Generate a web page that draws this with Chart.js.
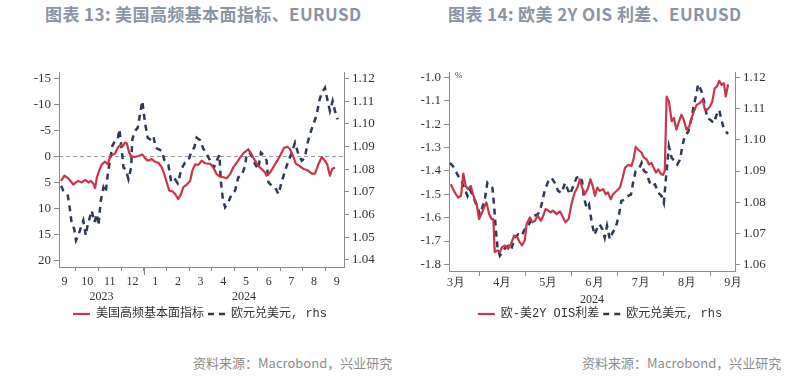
<!DOCTYPE html>
<html>
<head>
<meta charset="utf-8">
<script src="https://cdn.jsdelivr.net/npm/chart.js@4.4.1/dist/chart.umd.min.js"></script>
<style>
  html, body { margin: 0; padding: 0; background: #fff; }
  body { width: 800px; height: 379px; position: relative; overflow: hidden;
         font-family: "Noto Sans CJK SC", "Noto Sans", sans-serif; }
  .title { position: absolute; top: 1px; font-size: 17px; letter-spacing: 0.4px; font-weight: bold; color: #8a94a4; white-space: nowrap; }
  .src { position: absolute; top: 353px; font-size: 13px; color: #8c8c8c; white-space: nowrap; }
  .box { position: absolute; top: 50px; width: 400px; height: 280px; }
</style>
</head>
<body>
<div class="title" style="left:45px">图表 13: 美国高频基本面指标、EURUSD</div>
<div class="title" style="left:448px">图表 14: 欧美 2Y OIS 利差、EURUSD</div>
<div class="box" style="left:0"><canvas id="c1" width="400" height="280"></canvas></div>
<div class="box" style="left:400px"><canvas id="c2" width="400" height="280"></canvas></div>
<div class="src" style="left:193px">资料来源：Macrobond，兴业研究</div>
<div class="src" style="left:582px">资料来源：Macrobond，兴业研究</div>

<script>
/* ── chart 13: months counted from 2023-09-01 ───────────────────── */
const LEFT_MONTHS = ['9', '10', '11', '12', '1', '2', '3', '4', '5', '6', '7', '8', '9'];
const LEFT_YEARS = ['2023', '2024'];
const LEFT_YEAR_BOUNDS = [0, 4, 16];
const LEFT_Y_TICKS = [-15, -10, -5, 0, 5, 10, 15, 20];
const LEFT_R_TICKS = [1.04, 1.05, 1.06, 1.07, 1.08, 1.09, 1.10, 1.11, 1.12];

const US_HF_T = [0.35,0.50,0.67,0.82,0.89,1.00,1.11,1.26,1.41,1.56,1.67,1.78,1.85,1.93,2.03,2.15,2.29,2.41,2.51,2.61,
  2.73,2.85,2.95,3.07,3.17,3.25,3.35,3.44,3.58,3.76,3.93,4.05,4.17,4.35,4.49,4.64,4.79,4.90,5.01,5.12,
  5.26,5.37,5.52,5.64,5.74,5.89,6.04,6.14,6.26,6.40,6.55,6.70,6.92,7.06,7.21,7.36,7.50,7.65,7.80,7.94,
  8.09,8.24,8.38,8.60,8.75,8.90,9.04,9.19,9.34,9.41,9.56,9.70,9.88,10.03,10.18,10.32,10.44,10.56,10.70,10.85,
  11.03,11.20,11.40,11.54,11.69,11.84,11.98,12.08,12.20,12.30,12.42];
const US_HF_V = [4.7,3.7,4.2,5.0,5.4,5.0,4.7,5.0,4.5,5.0,4.7,5.3,6.1,4.0,2.7,1.5,1.0,1.5,0.1,-0.3,
  -0.6,-1.7,-2.2,-2.0,-2.7,-2.5,-0.8,-0.1,0.1,-0.1,-0.4,0.3,0.8,0.5,1.0,1.2,2.1,3.4,5.0,6.6,
  6.7,7.2,8.2,7.2,5.9,5.4,4.7,2.7,1.5,1.6,0.8,1.3,1.4,2.1,3.4,3.9,4.0,4.2,3.4,2.1,
  1.2,0.2,-0.6,-1.4,-0.4,0.8,1.8,2.4,3.1,3.7,3.1,2.1,0.8,-0.4,-1.7,-1.9,-1.4,-0.3,1.4,1.8,
  2.4,2.6,3.3,3.3,1.5,0.1,0.8,1.5,3.7,2.4,2.1];

const EUR1_T = [0.35,0.45,0.65,0.75,0.82,0.93,1.01,1.11,1.23,1.33,1.44,1.53,1.60,1.70,1.82,1.93,2.00,2.10,2.22,2.32,
  2.41,2.51,2.61,2.73,2.85,2.92,3.03,3.10,3.20,3.32,3.44,3.49,3.61,3.73,3.83,3.93,4.05,4.17,4.27,4.42,
  4.52,4.64,4.79,4.90,5.08,5.20,5.34,5.49,5.67,5.81,5.96,6.11,6.22,6.33,6.48,6.62,6.77,6.92,7.09,7.21,
  7.33,7.39,7.48,7.58,7.72,7.87,8.02,8.16,8.31,8.46,8.53,8.65,8.80,8.90,9.04,9.16,9.30,9.41,9.49,9.63,
  9.78,9.93,10.07,10.22,10.37,10.52,10.66,10.81,10.96,11.10,11.20,11.32,11.47,11.62,11.73,11.84,11.98,12.10,12.20,12.32,
  12.42,12.54];
const EUR1_V = [1.0727,1.0705,1.0683,1.0617,1.0558,1.0536,1.0485,1.0507,1.0544,1.0573,1.0507,1.0558,1.0580,1.0617,1.0566,1.0602,1.0551,1.0661,1.0720,1.0698,
  1.0778,1.0841,1.0903,1.0925,1.0932,1.0976,1.0881,1.0807,1.0800,1.0756,1.0807,1.0932,1.0969,1.0983,1.1042,1.1101,1.1005,1.0939,1.0932,1.0947,
  1.0895,1.0888,1.0881,1.0841,1.0819,1.0746,1.0760,1.0738,1.0804,1.0829,1.0837,1.0881,1.0895,1.0939,1.0928,1.0890,1.0866,1.0837,1.0807,1.0837,
  1.0863,1.0749,1.0668,1.0632,1.0654,1.0690,1.0705,1.0764,1.0771,1.0815,1.0866,1.0873,1.0851,1.0822,1.0800,1.0873,1.0859,1.0837,1.0742,1.0727,
  1.0720,1.0690,1.0742,1.0793,1.0837,1.0873,1.0917,1.0866,1.0837,1.0851,1.0910,1.0954,1.0998,1.1042,1.1101,1.1137,1.1159,1.1101,1.1057,1.1101,
  1.1057,1.1020];

/* ── chart 14: months counted from 2024-03-01 ───────────────────── */
const RIGHT_MONTHS = ['3月', '4月', '5月', '6月', '7月', '8月', '9月'];
const RIGHT_YEARS = ['2024'];
const RIGHT_YEAR_BOUNDS = [0, 12];
const RIGHT_Y_TICKS = [-1.8, -1.7, -1.6, -1.5, -1.4, -1.3, -1.2, -1.1, -1.0];
const RIGHT_R_TICKS = [1.06, 1.07, 1.08, 1.09, 1.10, 1.11, 1.12];

const OIS_T = [0.39,0.44,0.49,0.55,0.61,0.66,0.71,0.76,0.82,0.87,0.95,1.00,1.05,1.11,1.16,1.22,1.27,1.31,1.34,1.40,
  1.45,1.50,1.56,1.63,1.69,1.76,1.83,1.88,1.93,1.99,2.03,2.10,2.15,2.21,2.27,2.34,2.39,2.44,2.50,2.55,
  2.60,2.68,2.75,2.82,2.87,2.94,3.00,3.07,3.13,3.18,3.23,3.29,3.35,3.41,3.46,3.51,3.56,3.61,3.69,3.74,
  3.79,3.85,3.90,3.98,4.05,4.11,4.16,4.23,4.30,4.35,4.39,4.44,4.52,4.57,4.63,4.68,4.73,4.78,4.83,4.88,
  4.93,4.98,5.02,5.06,5.11,5.17,5.22,5.27,5.33,5.38,5.43,5.49,5.55,5.60,5.65,5.71,5.78,5.84,5.89,5.94,
  6.00,6.05,6.10,6.15,6.20,6.25,6.30,6.34,6.39];
const OIS_V = [-1.457,-1.478,-1.497,-1.514,-1.506,-1.411,-1.464,-1.478,-1.464,-1.500,-1.542,-1.606,-1.585,-1.556,-1.535,-1.585,-1.606,-1.606,-1.748,-1.740,
  -1.748,-1.726,-1.719,-1.734,-1.712,-1.677,-1.684,-1.705,-1.719,-1.698,-1.627,-1.599,-1.620,-1.613,-1.591,-1.613,-1.591,-1.563,-1.570,-1.577,
  -1.570,-1.585,-1.573,-1.599,-1.620,-1.606,-1.542,-1.492,-1.471,-1.436,-1.471,-1.500,-1.478,-1.436,-1.464,-1.506,-1.471,-1.485,-1.478,-1.500,
  -1.492,-1.521,-1.500,-1.485,-1.471,-1.428,-1.386,-1.374,-1.379,-1.343,-1.297,-1.308,-1.322,-1.343,-1.351,-1.372,-1.365,-1.386,-1.407,-1.393,
  -1.411,-1.417,-1.400,-1.081,-1.102,-1.187,-1.173,-1.223,-1.187,-1.159,-1.180,-1.223,-1.209,-1.173,-1.145,-1.117,-1.109,-1.095,-1.138,-1.138,
  -1.123,-1.102,-1.046,-1.038,-1.014,-1.031,-1.024,-1.081,-1.029];

const EUR2_T = [0.37,0.44,0.55,0.62,0.68,0.75,0.80,0.87,0.95,1.02,1.07,1.13,1.18,1.23,1.29,1.33,1.36,1.40,1.45,1.50,
  1.57,1.63,1.70,1.77,1.85,1.92,1.99,2.06,2.12,2.19,2.27,2.32,2.37,2.42,2.50,2.57,2.64,2.71,2.79,2.86,
  2.92,2.97,3.04,3.11,3.18,3.23,3.27,3.33,3.38,3.44,3.50,3.56,3.61,3.67,3.72,3.77,3.83,3.89,3.96,4.03,
  4.08,4.16,4.23,4.29,4.34,4.39,4.47,4.52,4.57,4.63,4.68,4.73,4.81,4.88,4.95,5.00,5.04,5.08,5.11,5.17,
  5.24,5.29,5.35,5.40,5.45,5.53,5.60,5.65,5.71,5.74,5.82,5.87,5.94,6.01,6.08,6.14,6.20,6.23,6.28,6.36,
  6.39];
const EUR2_V = [1.0926,1.0915,1.0884,1.0868,1.0846,1.0820,1.0841,1.0820,1.0788,1.0761,1.0782,1.0814,1.0862,1.0852,1.0846,1.0782,1.0718,1.0654,1.0628,1.0638,
  1.0654,1.0660,1.0649,1.0686,1.0697,1.0692,1.0713,1.0724,1.0740,1.0756,1.0761,1.0772,1.0804,1.0836,1.0868,1.0878,1.0862,1.0836,1.0830,1.0862,
  1.0841,1.0825,1.0852,1.0878,1.0884,1.0868,1.0814,1.0782,1.0793,1.0734,1.0695,1.0718,1.0729,1.0713,1.0686,1.0724,1.0681,1.0702,1.0718,1.0761,
  1.0804,1.0809,1.0820,1.0825,1.0868,1.0900,1.0910,1.0926,1.0900,1.0894,1.0868,1.0852,1.0857,1.0830,1.0820,1.0798,1.0868,1.0931,1.0979,1.0942,
  1.0931,1.0921,1.0937,1.0979,1.1011,1.1027,1.1070,1.1112,1.1150,1.1179,1.1155,1.1123,1.1070,1.1064,1.1054,1.1080,1.1096,1.1075,1.1045,1.1024,
  1.1019];

/* ── shared styling ─────────────────────────────────────────────── */
const AXIS = '#8c8c8c';
const RED = '#c8354c';
const NAVY = '#2e3a55';
const DASH = [6, 5];
const TICK_FONT = { family: '"Liberation Serif", "Times New Roman", serif', size: 12 };
const YTICK_FONT = { family: '"Liberation Serif", "Times New Roman", serif', size: 13 };
const LEGEND_FONT = { family: '"Liberation Mono", "Noto Sans CJK SC", monospace', size: 12 };

const pts = (t, v) => t.map((x, i) => ({ x, y: v[i] }));
const fixedWidth = (w) => (s) => { s.width = w; };
const fixedHeight = (h) => (s) => { s.height = h; };
const setTicks = (vals) => (s) => { s.ticks = vals.map((value) => ({ value })); };

// month boundaries carry the tick marks, month middles carry the labels
function monthTicks(months) {
  return (s) => {
    const out = [];
    for (let i = 0; i <= months.length; i++) {
      if (i >= s.min && i <= s.max) out.push({ value: i });
      if (i < months.length) out.push({ value: i + 0.5 });
    }
    s.ticks = out;
  };
}

// year row under the month labels, longer tick at year change, unit mark
const axisExtras = {
  id: 'axisExtras',
  afterDraw(chart, args, opts) {
    const x = chart.scales.x, ctx = chart.ctx;
    ctx.save();
    ctx.fillStyle = '#333';
    ctx.font = '12px "Liberation Serif", serif';
    ctx.textAlign = 'center';
    ctx.textBaseline = 'middle';
    opts.years.forEach((label, i) => {
      const a = Math.max(opts.bounds[i], x.min), b = Math.min(opts.bounds[i + 1], x.max);
      ctx.fillText(label, (x.getPixelForValue(a) + x.getPixelForValue(b)) / 2, x.top + opts.yearOffset);
    });
    ctx.strokeStyle = AXIS;
    ctx.lineWidth = 1;
    (opts.tall || []).forEach((v) => {
      const px = Math.round(x.getPixelForValue(v)) + 0.5;
      ctx.beginPath(); ctx.moveTo(px, x.top); ctx.lineTo(px, x.top + 8); ctx.stroke();
    });
    if (opts.unit) {
      ctx.font = '9px "Liberation Serif", serif';
      ctx.textAlign = 'left';
      ctx.fillText(opts.unit, chart.chartArea.left + 6, chart.chartArea.top + 4);
    }
    ctx.restore();
  },
};

function xAxis(months, min, max, height, tickLen, pad) {
  return {
    type: 'linear', min, max,
    afterBuildTicks: monthTicks(months),
    afterFit: fixedHeight(height),
    border: { color: AXIS, width: 1 },
    grid: { drawOnChartArea: false, tickLength: tickLen,
            tickColor: (c) => (Number.isInteger(c.tick.value) ? AXIS : 'rgba(0,0,0,0)') },
    ticks: { autoSkip: false, maxRotation: 0, padding: pad, color: '#333', font: TICK_FONT,
             callback: (v) => (Number.isInteger(v) ? '' : months[Math.floor(v)]) },
  };
}

function yAxis(pos, min, max, ticks, width, fmt, reverse) {
  return {
    type: 'linear', position: pos, min, max, reverse: !!reverse,
    afterBuildTicks: setTicks(ticks),
    afterFit: fixedWidth(width),
    border: { color: AXIS, width: 1 },
    grid: { drawOnChartArea: false, tickLength: 5, tickColor: AXIS },
    ticks: { color: '#333', font: YTICK_FONT, padding: 3, callback: fmt },
  };
}

// point-style legend items lose the dataset dash, so put it back
const legendOpts = {
  position: 'bottom',
  labels: {
    usePointStyle: true, pointStyle: 'line', pointStyleWidth: 17, padding: 4,
    color: '#333', font: LEGEND_FONT,
    generateLabels: (chart) => Chart.defaults.plugins.legend.labels.generateLabels(chart)
      .filter((item) => item.text !== '')
      .map((item) => ({ ...item, lineDash: chart.data.datasets[item.datasetIndex].borderDash || [] })),
  },
};

/* ── chart 13 ───────────────────────────────────────────────────── */
const L_XMIN = 0.26, L_XMAX = 12.82;
new Chart(document.getElementById('c1'), {
  type: 'line',
  data: {
    datasets: [
      { label: '美国高频基本面指标', data: pts(US_HF_T, US_HF_V), yAxisID: 'y',
        borderColor: RED, borderWidth: 2.2, pointRadius: 0, borderJoinStyle: 'round' },
      { label: '欧元兑美元, rhs', data: pts(EUR1_T, EUR1_V), yAxisID: 'y2',
        borderColor: NAVY, borderWidth: 2.5, borderDash: DASH, pointRadius: 0 },
      { label: '', data: pts([L_XMIN, L_XMAX], [0, 0]), yAxisID: 'y',
        borderColor: '#9a9a9a', borderWidth: 1, borderDash: [4, 3], pointRadius: 0 },
    ],
  },
  options: {
    responsive: false, animation: false,
    layout: { padding: { top: 22, left: 0, right: 0, bottom: 0 } },
    scales: {
      x: xAxis(LEFT_MONTHS, L_XMIN, L_XMAX, 37, 4, 4),
      y: yAxis('left', -16.3, 21.3, LEFT_Y_TICKS, 59, (v) => String(v), true),
      y2: yAxis('right', 1.0368, 1.1229, LEFT_R_TICKS, 56, (v) => v.toFixed(2)),
    },
    plugins: {
      legend: legendOpts,
      tooltip: { enabled: false },
      axisExtras: { years: LEFT_YEARS, bounds: LEFT_YEAR_BOUNDS, tall: [4], yearOffset: 30 },
    },
  },
  plugins: [axisExtras],
});

/* ── chart 14 ───────────────────────────────────────────────────── */
new Chart(document.getElementById('c2'), {
  type: 'line',
  data: {
    datasets: [
      { label: '欧-美2Y OIS利差', data: pts(OIS_T, OIS_V), yAxisID: 'y',
        borderColor: RED, borderWidth: 2.2, pointRadius: 0, borderJoinStyle: 'round' },
      { label: '欧元兑美元, rhs', data: pts(EUR2_T, EUR2_V), yAxisID: 'y2',
        borderColor: NAVY, borderWidth: 2.5, borderDash: DASH, pointRadius: 0 },
    ],
  },
  options: {
    responsive: false, animation: false,
    layout: { padding: { top: 22, left: 0, right: 0, bottom: 0 } },
    scales: {
      x: xAxis(RIGHT_MONTHS, 0.35, 6.54, 33, 5, 0),
      y: yAxis('left', -1.8285, -0.976, RIGHT_Y_TICKS, 49, (v) => v.toFixed(1)),
      y2: yAxis('right', 1.0579, 1.1218, RIGHT_R_TICKS, 65, (v) => v.toFixed(2)),
    },
    plugins: {
      legend: legendOpts,
      tooltip: { enabled: false },
      axisExtras: { years: RIGHT_YEARS, bounds: RIGHT_YEAR_BOUNDS, yearOffset: 29, unit: '%' },
    },
  },
  plugins: [axisExtras],
});
</script>
</body>
</html>
